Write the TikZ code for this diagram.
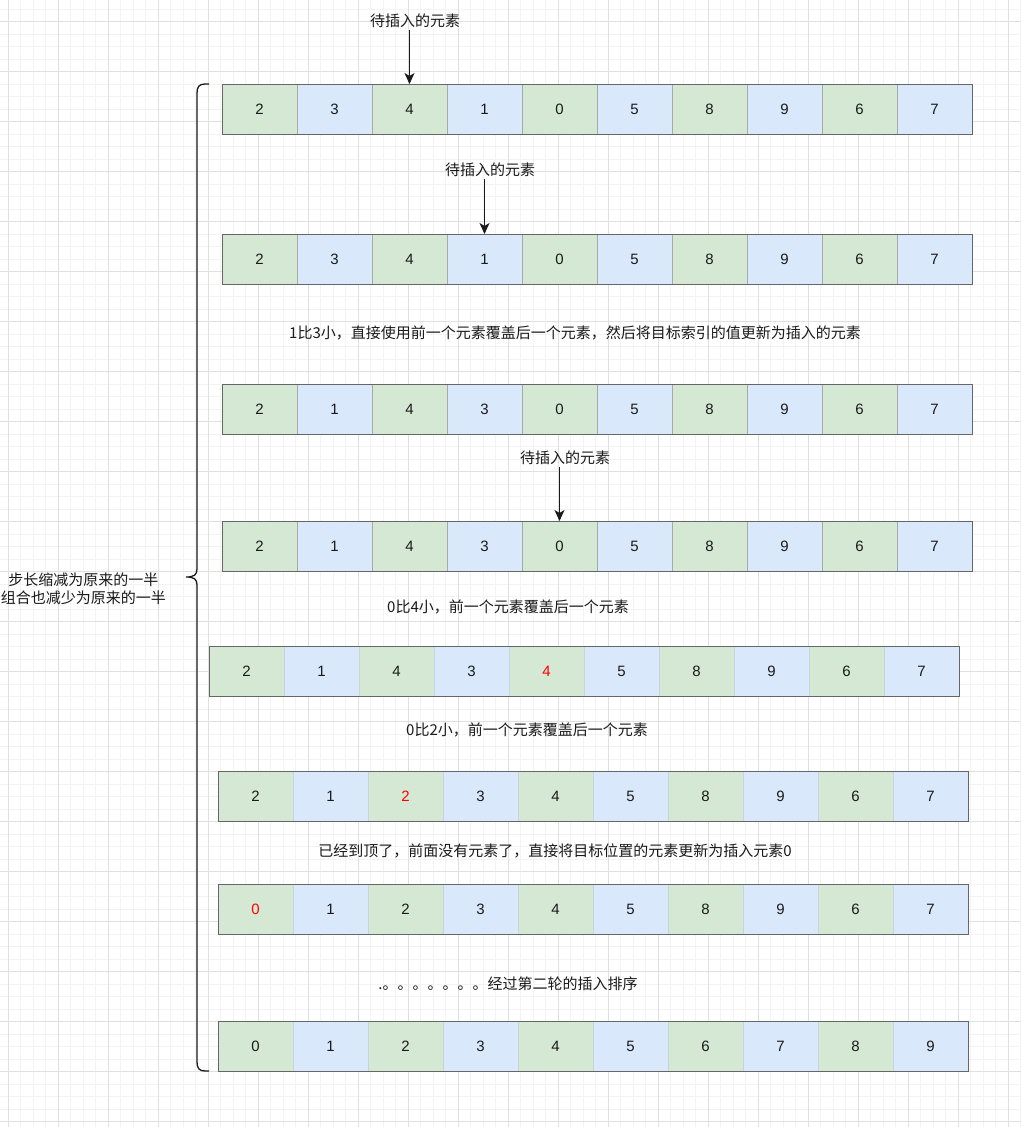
\documentclass[tikz,border=0pt]{standalone}
\usepackage{fontspec}
\setmainfont{Liberation Sans}
\newfontfamily\cjk{Noto Sans CJK SC}
\usetikzlibrary{arrows.meta}
\definecolor{gfill}{HTML}{D5E8D4}
\definecolor{bfill}{HTML}{DAE8FC}
\definecolor{gridminor}{HTML}{F3F3F3}
\definecolor{gridmajor}{HTML}{E0E0E0}
\definecolor{framec}{HTML}{666666}
\definecolor{innerA}{HTML}{A8A8A8}
\definecolor{innerB}{HTML}{C8D4DC}
\definecolor{txt}{HTML}{1A1A1A}
\tikzset{
  cellbox/.style={minimum width=75pt, minimum height=50pt, inner sep=0pt, outer sep=0pt, line width=0.8pt, text=txt},
  frame/.style={draw=framec, line width=1pt},
  lab/.style={font=\fontsize{15}{18}\selectfont\cjk, text=txt, inner sep=2pt},
  arr/.style={draw=txt, line width=1.4pt, -{Stealth[length=11pt,width=10pt,inset=3pt]}},
  bracec/.style={draw=txt, line width=1.3pt},
}
\newcommand\cellrow[5]{%
  \foreach \v [count=\i] in {#4} {%
    \ifodd\i\def\fc{gfill}\else\def\fc{bfill}\fi
    \node[cellbox, fill=\fc, draw=#5] (#1c\i) at ({#2+75*(\i-1)+37.5},{#3+25}) {\v};
  }%
  \draw[frame] (#1c1.north west) rectangle (#1c10.south east);
}
\begin{document}
\begin{tikzpicture}[x=1pt,y=-1pt, font=\fontsize{15}{18}\selectfont]
\useasboundingbox (0,0) rectangle (1021,1127);
\fill[white] (0,0) rectangle (1021,1127);
% grid
\foreach \i in {-1,...,82} \draw[gridminor, line width=0.8pt] ({8.33+12.5*\i},0) -- ({8.33+12.5*\i},1127);
\foreach \j in {-2,...,90} \draw[gridminor, line width=0.8pt] (0,{21.7+12.5*\j}) -- (1021,{21.7+12.5*\j});
\foreach \i in {0,...,20} \draw[gridmajor, line width=0.8pt] ({8.33+50*\i},0) -- ({8.33+50*\i},1127);
\foreach \j in {0,...,22} \draw[gridmajor, line width=0.8pt] (0,{21.7+50*\j}) -- (1021,{21.7+50*\j});

% rows
\cellrow{ra}{222}{84}{2,3,4,1,0,5,8,9,6,7}{innerA}
\cellrow{rb}{222}{234}{2,3,4,1,0,5,8,9,6,7}{innerA}
\cellrow{rc}{222}{384}{2,1,4,3,0,5,8,9,6,7}{innerA}
\cellrow{rd}{222}{521}{2,1,4,3,0,5,8,9,6,7}{innerA}
\cellrow{re}{209}{646}{2,1,4,3,{\textcolor{red}{4}},5,8,9,6,7}{innerB}
\cellrow{rf}{218}{771}{2,1,{\textcolor{red}{2}},3,4,5,8,9,6,7}{innerB}
\cellrow{rg}{218}{884}{{\textcolor{red}{0}},1,2,3,4,5,8,9,6,7}{innerB}
\cellrow{rh}{218}{1021}{0,1,2,3,4,5,6,7,8,9}{innerB}

% insertion labels and arrows
\node[lab] (insa) at (415,21) {待插入的元素};
\draw[arr] (insa.south -| rac3) -- (rac3.north);
\node[lab] (insb) at (490,170) {待插入的元素};
\draw[arr] (insb.south -| rbc4) -- (rbc4.north);
\node[lab] (insc) at (565,458) {待插入的元素};
\draw[arr] (insc.south -| rdc5) -- (rdc5.north);

% explanatory texts
\node[lab] (ta) at (575,333) {1比3小，直接使用前一个元素覆盖后一个元素，然后将目标索引的值更新为插入的元素};
\node[lab] (tb) at (508,607) {0比4小，前一个元素覆盖后一个元素};
\node[lab] (tc) at (527,730) {0比2小，前一个元素覆盖后一个元素};
\node[lab] (td) at (555,851) {已经到顶了，前面没有元素了，直接将目标位置的元素更新为插入元素0};
\node[lab] (te) at (508,984) {.。。。。。。。经过第二轮的插入排序};

% brace
\coordinate (btop) at (209,84);
\coordinate (btip) at (186,577);
\coordinate (bbot) at (209,1071);
\draw[bracec] (btop) -- (205,84) .. controls (199,84) and (197,87) .. (197,93)
  -- (197,569) .. controls (197,575) and (194,577) .. (btip)
  .. controls (194,577) and (197,579) .. (197,585)
  -- (197,1062) .. controls (197,1068) and (199,1071) .. (205,1071) -- (bbot);
\node[lab, align=center, anchor=east] (bt) at ([xshift=-18pt,yshift=-12pt]btip) {步长缩减为原来的一半\\组合也减少为原来的一半};
\end{tikzpicture}
\end{document}
